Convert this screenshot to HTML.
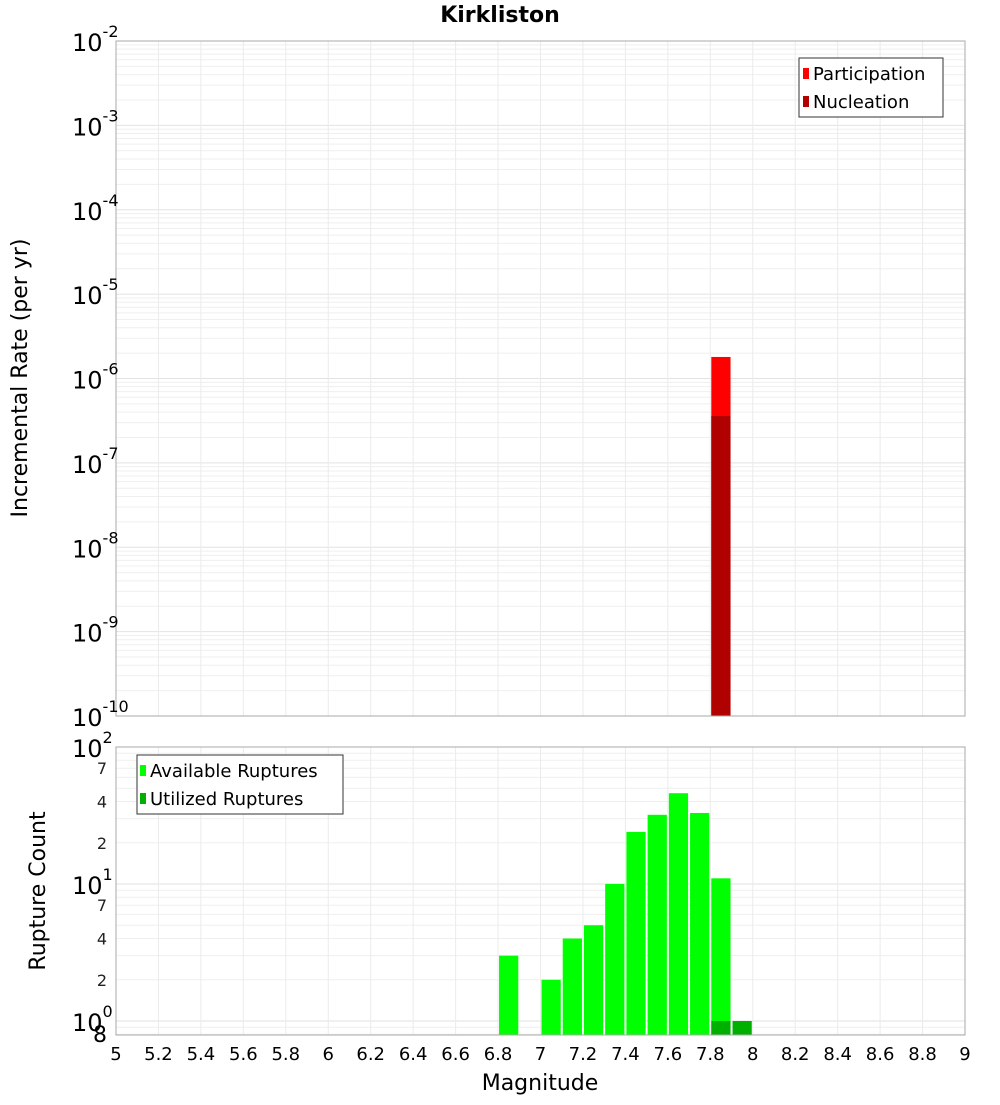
<!DOCTYPE html>
<html><head><meta charset="utf-8"><style>
body{margin:0;background:#fff;}
svg text{font-family:"DejaVu Sans","Liberation Sans",sans-serif;}
</style></head><body>
<svg id="c" width="1000" height="1100" xmlns="http://www.w3.org/2000/svg"></svg>
<script>
const binCenters=[6.85,6.95,7.05,7.15,7.25,7.35,7.45,7.55,7.65,7.75,7.85,7.95];
const available=[3,0,2,4,5,10,24,32,46,33,11,0];
const utilized=[0,0,0,0,0,0,0,0,0,0,1,1];
const partCenters=[7.85];
const participation=[1.8e-6];
const nucleation=[3.6e-7];
const xTicks=[5,5.2,5.4,5.6,5.8,6,6.2,6.4,6.6,6.8,7,7.2,7.4,7.6,7.8,8,8.2,8.4,8.6,8.8,9];

const svg=document.getElementById('c');
const NS='http://www.w3.org/2000/svg';
function el(t,a,txt){const e=document.createElementNS(NS,t);for(const k in a)e.setAttribute(k,a[k]);if(txt!==undefined)e.textContent=txt;svg.appendChild(e);return e;}
const L=116,R=965;
const X=v=>L+(v-5)/4*(R-L);
const T1=41,B1=716;const Y1=v=>B1-(Math.log10(v)+10)/8*(B1-T1);
const T2=747,B2=1035;const Y2=v=>1021-Math.log10(v)*137;

// top grid
let g;
for(let d=-10;d<-2;d++)for(let m=1;m<10;m++){const y=Y1(m*Math.pow(10,d));if(y<T1)continue;
 g=el('line',{x1:L,x2:R,y1:y,y2:y,stroke:m==1?'#e2e2e2':'#efefef','stroke-width':1});
 }
for(let v=5;v<=9.001;v+=0.2){const x=X(v);g=el('line',{x1:x,x2:x,y1:T1,y2:B1,stroke:'#ebebeb'});
 }
// bottom grid
for(let d=-1;d<2;d++)for(let m=1;m<10;m++){const y=Y2(m*Math.pow(10,d));if(y<T2||y>B2)continue;
 g=el('line',{x1:L,x2:R,y1:y,y2:y,stroke:m==1?'#e2e2e2':'#efefef'});
 }
for(let v=5;v<=9.001;v+=0.2){const x=X(v);g=el('line',{x1:x,x2:x,y1:T2,y2:B2,stroke:'#ebebeb'});
 }

// top bars
const bw=(X(5.1)-X(5))-2;
partCenters.forEach((c,i)=>{const x=X(c)-bw/2;
 let r=el('rect',{x:x,y:Y1(participation[i]),width:bw,height:B1-Y1(participation[i]),fill:'#ff0000'});
 
 r=el('rect',{x:x,y:Y1(nucleation[i]),width:bw,height:B1-Y1(nucleation[i]),fill:'#b00000'});
 });
// bottom bars
binCenters.forEach((c,i)=>{const x=X(c)-bw/2;
 if(available[i]>0){const y=Y2(available[i]);let r=el('rect',{x:x,y:y,width:bw,height:B2-y,fill:'#00ff00'});
  }
 if(utilized[i]>0){const y=Y2(utilized[i]);let r=el('rect',{x:x,y:y,width:bw,height:B2-y,fill:'#00b000'});
  }});

// frames
g=el('rect',{x:L,y:T1,width:R-L,height:B1-T1,fill:'none',stroke:'#aaa'});
g=el('rect',{x:L,y:T2,width:R-L,height:B2-T2,fill:'none',stroke:'#aaa'});

// top y labels
for(let d=-10;d<=-2;d++){const y=Y1(Math.pow(10,d));
 let t=el('text',{x:72,y:y+10,'font-size':24,fill:'#000'});
 t.textContent='10';const s=document.createElementNS(NS,'tspan');s.setAttribute('dy',-14);s.setAttribute('font-size',16);s.textContent=String(d);t.appendChild(s);}
// bottom y labels
[[1,'0'],[10,'1'],[100,'2']].forEach(([v,e])=>{const y=Y2(v);
 let t=el('text',{x:72,y:y+10,'font-size':24,fill:'#000'});
 t.textContent='10';const s=document.createElementNS(NS,'tspan');s.setAttribute('dy',-14);s.setAttribute('font-size',16);s.textContent=e;t.appendChild(s);});
[2,4,7,20,40,70].forEach(v=>{let t=el('text',{x:107,y:Y2(v)+6,'font-size':16,'text-anchor':'end',fill:'#222'},String(v<10?v:v/10));
 });
g=el('text',{x:107,y:1042,'font-size':22,'text-anchor':'end'},'8');
// x labels
xTicks.forEach(v=>{let t=el('text',{x:X(v),y:1060,'font-size':18,'text-anchor':'middle'},String(Math.round(v*10)/10));
 });

g=el('text',{x:500,y:22,'font-size':22,'font-weight':'bold','text-anchor':'middle'},'Kirkliston');
g=el('text',{x:540,y:1090,'font-size':22,'text-anchor':'middle'},'Magnitude');
g=el('text',{x:0,y:0,'font-size':22,'text-anchor':'middle',transform:'translate(27,378) rotate(-90)'},'Incremental Rate (per yr)');
g=el('text',{x:0,y:0,'font-size':22,'text-anchor':'middle',transform:'translate(45,891) rotate(-90)'},'Rupture Count');

// legends
g=el('rect',{x:799,y:58,width:144,height:59,fill:'#fff',stroke:'#333'});
g=el('rect',{x:803,y:68,width:6,height:11,fill:'#ff0000'});
g=el('text',{x:813,y:80,'font-size':18},'Participation');
g=el('rect',{x:803,y:96,width:6,height:11,fill:'#b00000'});
g=el('text',{x:813,y:108,'font-size':18},'Nucleation');

g=el('rect',{x:137,y:755,width:206,height:59,fill:'#fff',stroke:'#333'});
g=el('rect',{x:140,y:765,width:6,height:11,fill:'#00ff00'});
g=el('text',{x:150,y:777,'font-size':18},'Available Ruptures');
g=el('rect',{x:140,y:793,width:6,height:11,fill:'#00b000'});
g=el('text',{x:150,y:805,'font-size':18},'Utilized Ruptures');
</script>
</body></html>
